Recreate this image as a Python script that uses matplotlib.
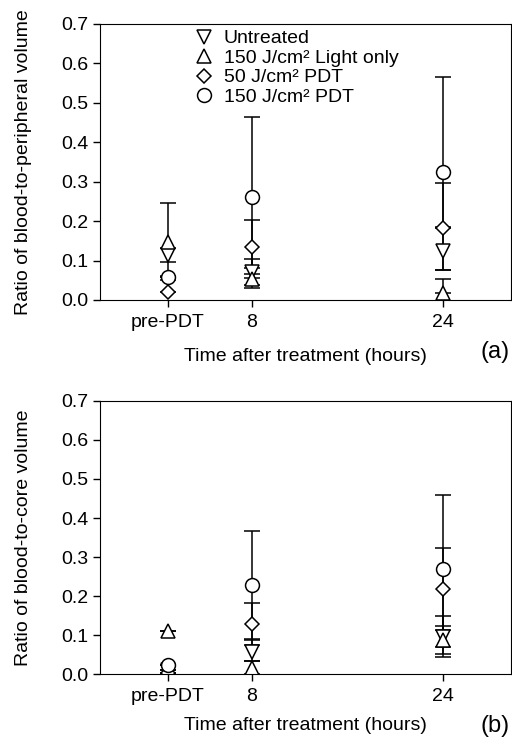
import matplotlib
matplotlib.use("Agg")
from matplotlib import pyplot as plt
from matplotlib.lines import Line2D

plt.rcParams['font.family'] = ['Liberation Sans', 'DejaVu Sans']
plt.rcParams['font.size'] = 14

# time points (hours) and their tick labels
times = [1, 8, 24]
time_labels = ['pre-PDT', '8', '24']

series_labels = ['Untreated', '150 J/cm² Light only', '50 J/cm² PDT', '150 J/cm² PDT']
series_markers = ['v', '^', 'D', 'o']
series_sizes = [10, 10, 7, 10]

# (a) blood-to-peripheral volume, rows follow series_labels
peripheral_mean = [
    [0.114, 0.070, 0.123],
    [0.148, 0.053, 0.017],
    [0.020, 0.135, 0.182],
    [0.059, 0.261, 0.324],
]
peripheral_err_lo = [
    [0.018, 0.033, 0.047],
    [0.097, 0.023, 0.000],
    [0.000, 0.068, 0.000],
    [0.000, 0.204, 0.248],
]
peripheral_err_hi = [
    [0.018, 0.033, 0.062],
    [0.097, 0.028, 0.035],
    [0.040, 0.068, 0.114],
    [0.000, 0.204, 0.241],
]

# (b) blood-to-core volume
core_mean = [
    [0.010, 0.057, 0.096],
    [0.111, 0.015, 0.087],
    [0.003, 0.128, 0.218],
    [0.023, 0.227, 0.269],
]
core_err_lo = [
    [0.000, 0.024, 0.053],
    [0.000, 0.015, 0.035],
    [0.000, 0.053, 0.106],
    [0.000, 0.140, 0.200],
]
core_err_hi = [
    [0.000, 0.033, 0.053],
    [0.000, 0.018, 0.035],
    [0.000, 0.053, 0.106],
    [0.000, 0.140, 0.189],
]


def draw_panel(ax, means, err_lo, err_hi, ylabel, tag, labelpad):
    for i in range(len(means)):
        ax.errorbar(times, means[i], yerr=[err_lo[i], err_hi[i]],
                    fmt=series_markers[i], ms=series_sizes[i],
                    mfc='white', mec='black', mew=1.1,
                    ecolor='black', elinewidth=1.1, capsize=5.5, capthick=1.1)
    ax.set_xlim(-4.7, 29.7)
    ax.set_ylim(0, 0.7)
    ax.set_xticks(times)
    ax.set_xticklabels(time_labels)
    ax.set_yticks([0.0, 0.1, 0.2, 0.3, 0.4, 0.5, 0.6, 0.7])
    ax.set_yticklabels(['%.1f' % v for v in ax.get_yticks()])
    ax.tick_params(direction='out', length=5, width=1.0, top=False, right=False)
    ax.tick_params(axis='x', pad=5)
    ax.set_ylabel(ylabel, labelpad=21)
    ax.set_xlabel('Time after treatment (hours)', labelpad=labelpad)
    ax.text(0.998, -0.19, tag, transform=ax.transAxes, ha='right', va='center',
            fontsize=17)


def main():
    fig = plt.figure(figsize=(5.12, 7.47), dpi=100)
    ax_a = fig.add_axes([0.1953, 0.5984, 0.802, 0.3695])
    ax_b = fig.add_axes([0.1953, 0.0977, 0.802, 0.3655])

    draw_panel(ax_a, peripheral_mean, peripheral_err_lo, peripheral_err_hi,
               'Ratio of blood-to-peripheral volume', '(a)', 12)
    draw_panel(ax_b, core_mean, core_err_lo, core_err_hi,
               'Ratio of blood-to-core volume', '(b)', 9)

    handles = [Line2D([], [], linestyle='none', marker=m, ms=s, mfc='white',
                      mec='black', mew=1.1)
               for m, s in zip(series_markers, series_sizes)]
    ax_a.legend(handles, series_labels, loc='upper left',
                bbox_to_anchor=(0.23, 0.979), frameon=False, borderpad=0,
                borderaxespad=0, handlelength=1.0, handletextpad=0.5,
                labelspacing=0.1)

    fig.savefig('out.png', dpi=100)


if __name__ == "__main__":
    main()
